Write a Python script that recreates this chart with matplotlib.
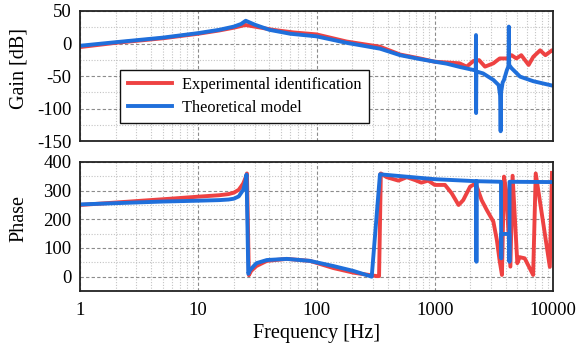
import matplotlib
matplotlib.use("Agg")
import matplotlib.pyplot as plt
from matplotlib.ticker import FixedLocator, NullFormatter, FixedFormatter

# ---- data -------------------------------------------------------------
# gain, experimental identification
f_gain_exp = [1, 2, 5, 10, 15, 20, 25, 30, 43, 64, 100, 180, 345, 510, 750,
              1000, 1340, 1620, 1860, 2120, 2370, 2660, 3130, 3540, 4070,
              4460, 4900, 5390, 6220, 6810, 7780, 8620, 9800, 10000]
gain_exp = [-5.5, 1, 8, 15, 20, 24.3, 28.5, 26, 21, 17, 14, 3, -5, -17, -23,
            -28, -29.5, -30.5, -35.6, -27, -25.6, -35.6, -30.5, -23, -23,
            -18, -23, -18, -33, -20.5, -10.5, -18, -10.5, -11]

# gain, theoretical model
f_gain_th = [1, 2, 5, 10, 15, 20, 23, 25.2, 30, 40, 60, 100, 180, 345, 510,
             750, 1000, 1260, 1620, 2220, 2232, 2236, 2248, 2560, 3130, 3470,
             3570, 3606, 3640, 3750, 3850, 4070, 4200, 4230, 4260, 4460, 5270,
             6810, 10000]
gain_th = [-3.5, 2, 9, 16, 21, 26, 30, 35, 29, 21, 15, 11, 1, -8, -18,
           -24, -28, -31, -36, -41.5, 13, -107, -43, -46, -56, -64,
           -80, -135, -75, -60, -56, -41, -35, 26, -33, -38, -51,
           -58, -65]

# phase, experimental identification
f_phase_exp = [1, 5, 10, 15, 18, 20, 22, 24, 25, 25.8, 26.8, 28, 31, 38, 56,
               88, 139, 205, 323, 338, 350, 392, 493, 580, 680, 770, 880, 1000,
               1220, 1390, 1590, 1740, 1990, 2170, 2250, 2490, 2750, 3130, 3350,
               3530, 3700, 3850, 4010, 4360, 4550, 4990, 5220, 5760, 6790, 7140,
               9400, 9800]
phase_exp = [250, 270, 279, 284, 288, 293, 303, 325, 343, 360, 5, 20, 37, 55,
             62, 55, 30, 14, 2, 2, 360, 347, 335, 347, 337, 328, 335, 320,
             320, 291, 250, 267, 314, 323, 318, 267, 233, 192, 128,
             58, 6, 349, 302, 35, 352, 47, 68, 64, 6, 360,
             34, 362]

# phase, theoretical model
f_phase_th = [1, 5, 10, 15, 18, 20, 22, 24, 25, 25.6, 26.5, 27.4, 31, 38, 56,
              88, 139, 205, 293, 344, 1000, 2240, 2250, 2260, 3630, 3650, 3660,
              4270, 4280, 4290, 10000]
phase_th = [252, 262, 265, 267, 269, 272, 280, 303, 330, 356, 10, 23, 47, 58,
            62, 55, 37, 20, 0, 357, 340, 333, 52, 333, 331, 64, 149,
            149, 52, 331, 330]

freq_ticks = [1, 10, 100, 1000, 10000]
freq_tick_labels = ["1", "10", "100", "1000", "10000"]
gain_ticks = [50, 0, -50, -100, -150]
phase_ticks = [0, 100, 200, 300, 400]

# ---- style ------------------------------------------------------------
plt.rcParams["font.family"] = ["Liberation Serif", "DejaVu Serif"]
plt.rcParams["axes.unicode_minus"] = False

RED = "#EE4242"
BLUE = "#1F6FDB"
LW = 2.8

fig = plt.figure(figsize=(5.76, 3.48), dpi=100)
ax_g = fig.add_axes([0.1389, 0.5948, 0.8212, 0.3736])
ax_p = fig.add_axes([0.1389, 0.1638, 0.8212, 0.3707])


def style_axes(ax, yticks, ylim, yminor):
    ax.set_xscale("log")
    ax.set_xlim(1, 10000)
    ax.set_ylim(*ylim)
    ax.xaxis.set_major_locator(FixedLocator(freq_ticks))
    minors = [m * 10 ** d for d in range(4) for m in range(2, 10)]
    ax.xaxis.set_minor_locator(FixedLocator(minors))
    ax.xaxis.set_minor_formatter(NullFormatter())
    ax.yaxis.set_major_locator(FixedLocator(yticks))
    ax.yaxis.set_minor_locator(FixedLocator(yminor))
    ax.grid(which="major", linestyle=(0, (3, 2)), color="#8c8c8c", linewidth=0.8)
    ax.grid(which="minor", linestyle=(0, (1, 1.5)), color="#c4c4c4", linewidth=0.8)
    ax.set_axisbelow(True)
    ax.tick_params(which="both", length=0, labelsize=13.5)
    ax.tick_params(axis="y", pad=6)
    ax.tick_params(axis="x", pad=8)
    for s in ax.spines.values():
        s.set_linewidth(1.3)
        s.set_color("#222222")


style_axes(ax_g, gain_ticks, (-150, 50), [25, -25, -75, -125])
style_axes(ax_p, phase_ticks, (-50, 400), [350, 250, 150, 50])

ax_g.plot(f_gain_exp, gain_exp, color=RED, lw=LW, solid_joinstyle="round",
          label="Experimental identification")
ax_g.plot(f_gain_th, gain_th, color=BLUE, lw=LW, solid_joinstyle="round",
          label="Theoretical model")
ax_g.xaxis.set_major_formatter(NullFormatter())

ax_p.plot(f_phase_exp, phase_exp, color=RED, lw=LW, solid_joinstyle="round")
ax_p.plot(f_phase_th, phase_th, color=BLUE, lw=LW, solid_joinstyle="round")
ax_p.xaxis.set_major_formatter(FixedFormatter(freq_tick_labels))

ax_g.set_ylabel("Gain [dB]", fontsize=14.5)
ax_p.set_ylabel("Phase", fontsize=14.5)
ax_p.set_xlabel("Frequency [Hz]", fontsize=14.5)
ax_g.yaxis.set_label_coords(-0.108, 0.56)
ax_p.yaxis.set_label_coords(-0.108, 0.56)
ax_p.xaxis.set_label_coords(0.5, -0.255)

leg = ax_g.legend(loc="lower left", bbox_to_anchor=(0.085, 0.138),
                  borderaxespad=0, fontsize=11.8, handlelength=2.7,
                  fancybox=False, framealpha=1, edgecolor="#111111",
                  borderpad=0.45, labelspacing=0.4, handletextpad=0.6)
leg.get_frame().set_linewidth(1.0)

fig.savefig("out.png", dpi=100, facecolor="white")
